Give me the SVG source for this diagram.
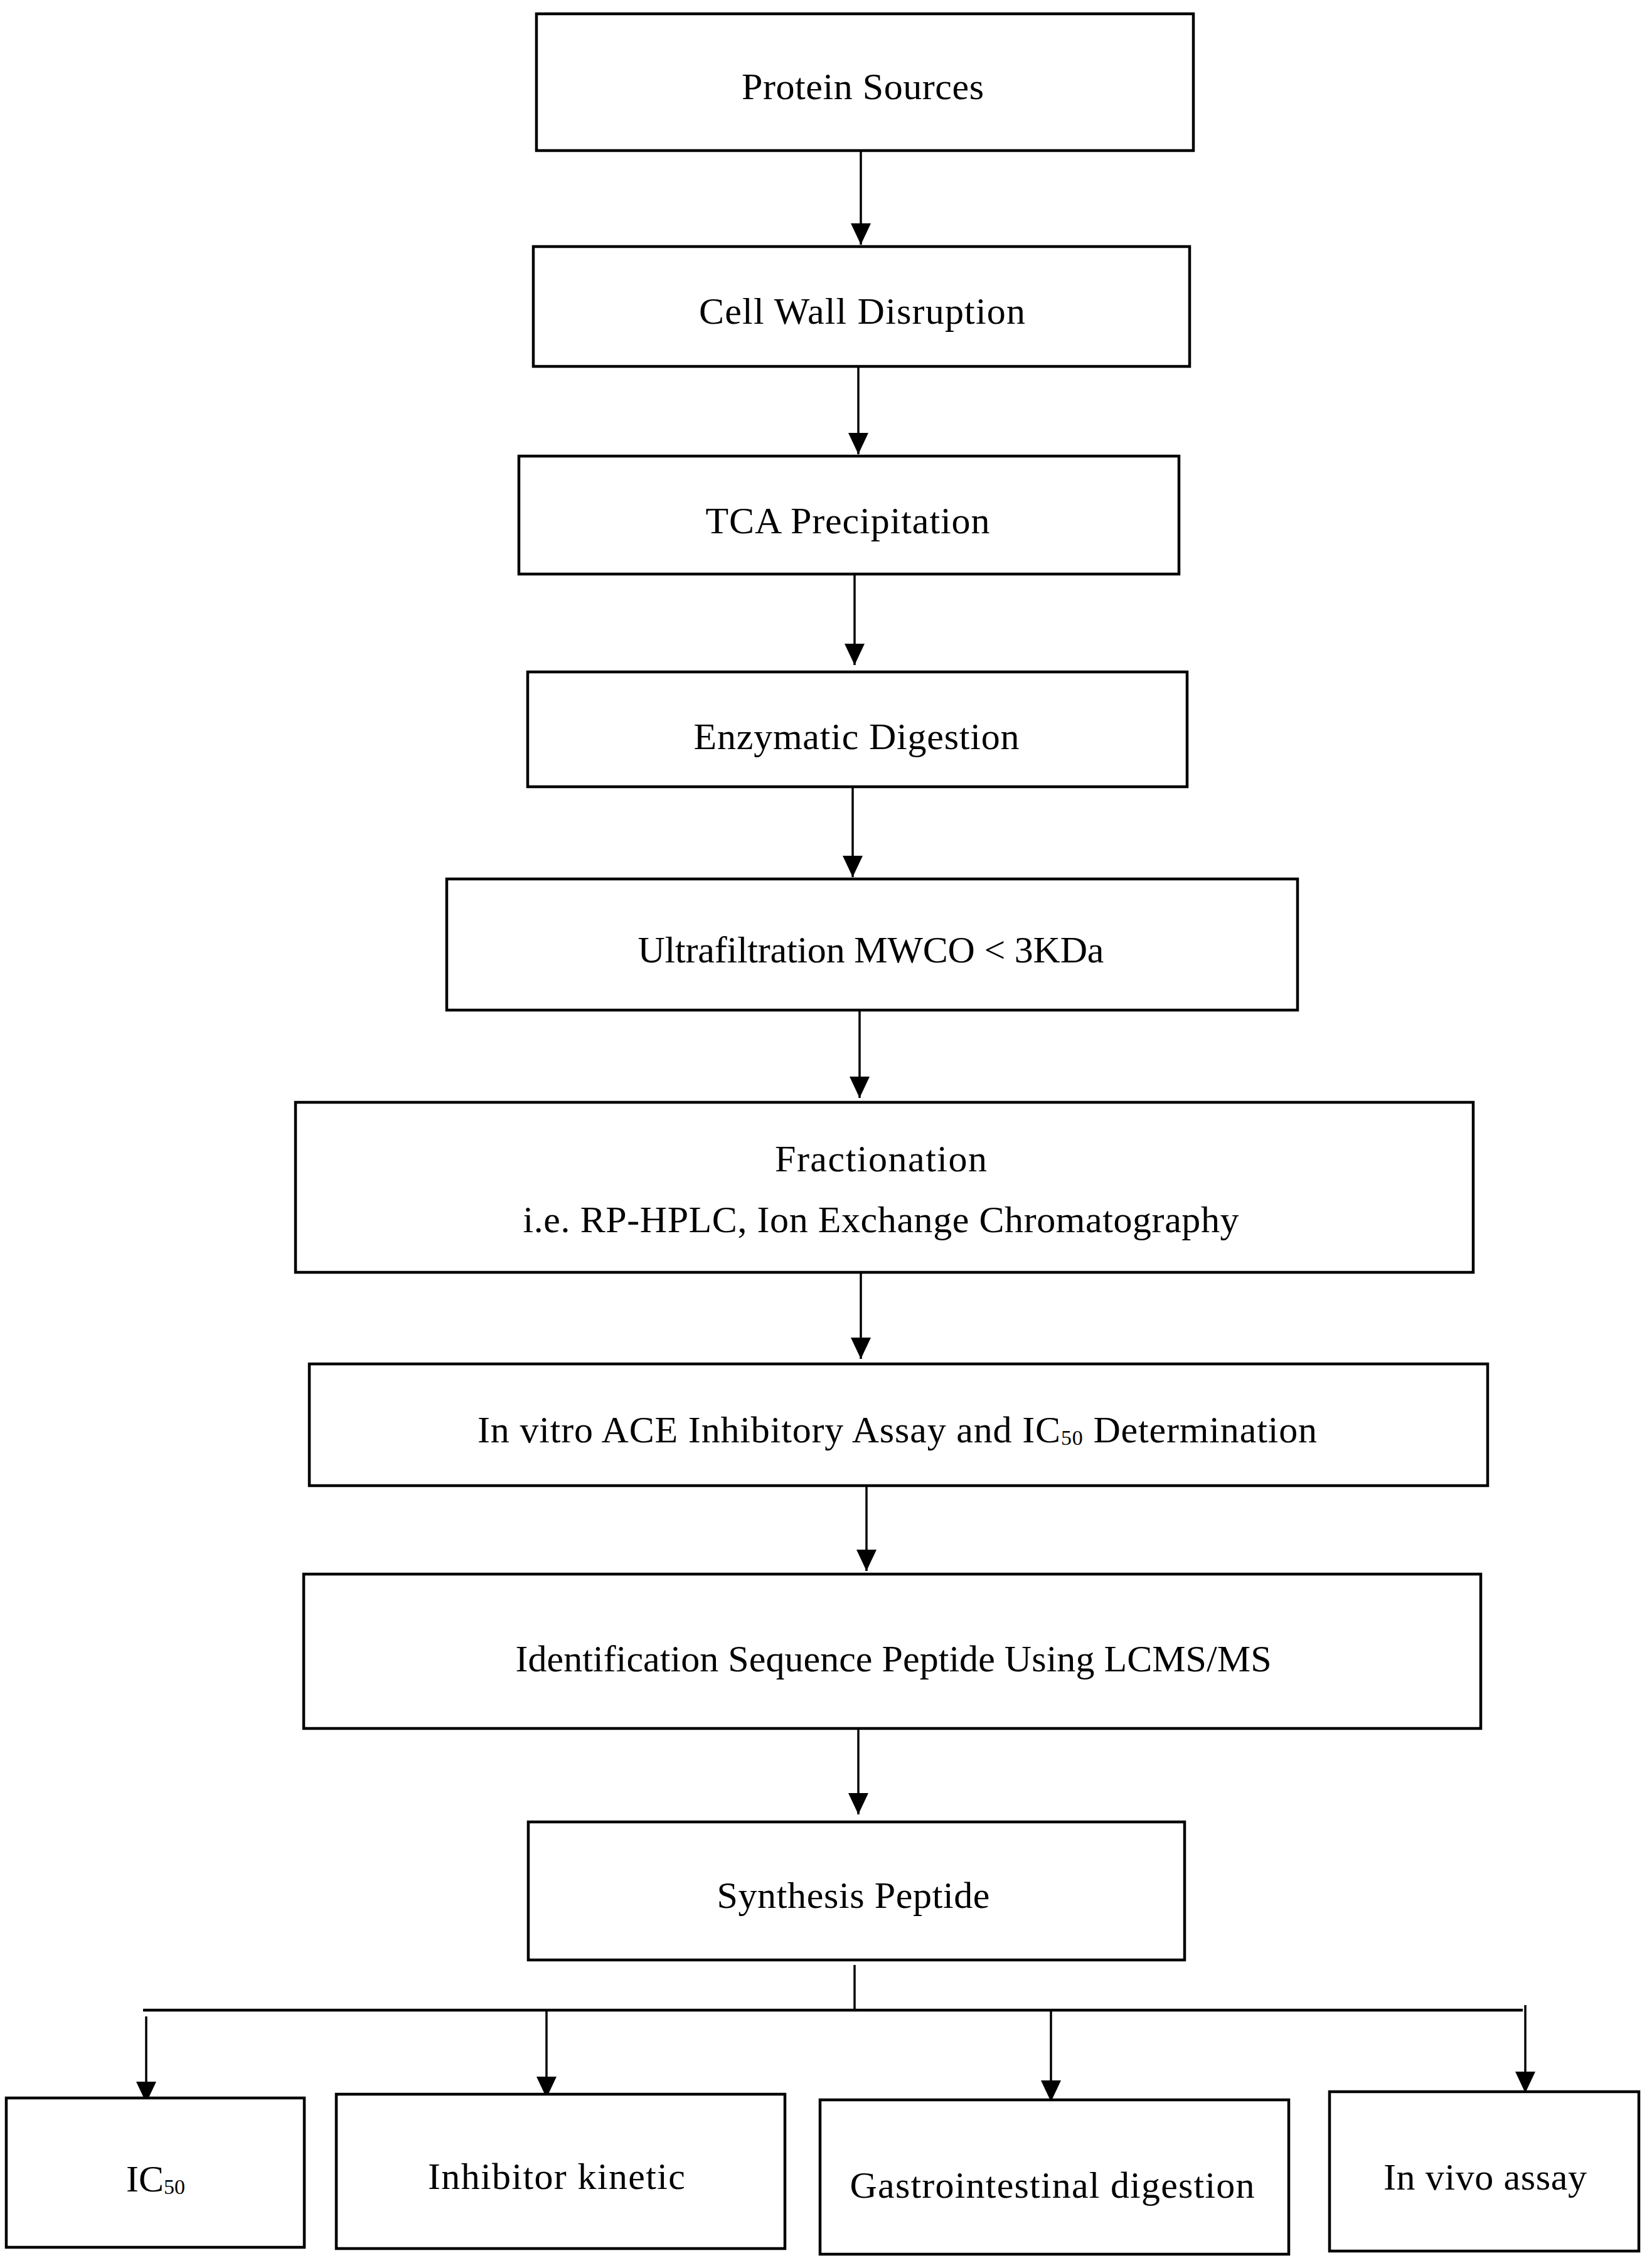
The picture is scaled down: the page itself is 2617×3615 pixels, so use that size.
<svg xmlns="http://www.w3.org/2000/svg" width="2617" height="3615" viewBox="0 0 2617 3615">
<style>
.box{fill:#fff;stroke:#000;stroke-width:4.5}
.t{font-family:"Liberation Serif","DejaVu Serif",serif;font-size:60px;fill:#000;text-anchor:middle}
.c{stroke:#000;stroke-width:3.5;fill:none}
.h{stroke:#000;stroke-width:4.5;fill:none}
</style>
<defs>
<marker id="a" markerUnits="userSpaceOnUse" markerWidth="34" markerHeight="32" viewBox="0 0 34 32" refX="34" refY="16" orient="auto">
<path d="M0,0 L34,16 L0,32 Z" fill="#000"/>
</marker>
</defs>
<rect width="2617" height="3615" fill="#fff"/>
<g id="connectors">
<line class="c" x1="1372" y1="242" x2="1372" y2="390" marker-end="url(#a)"/>
<line class="c" x1="1368" y1="586" x2="1368" y2="724" marker-end="url(#a)"/>
<line class="c" x1="1362" y1="917" x2="1362" y2="1060" marker-end="url(#a)"/>
<line class="c" x1="1359" y1="1256" x2="1359" y2="1398" marker-end="url(#a)"/>
<line class="c" x1="1370" y1="1612" x2="1370" y2="1750" marker-end="url(#a)"/>
<line class="c" x1="1372" y1="2030" x2="1372" y2="2166" marker-end="url(#a)"/>
<line class="c" x1="1381" y1="2370" x2="1381" y2="2504" marker-end="url(#a)"/>
<line class="c" x1="1368" y1="2757" x2="1368" y2="2892" marker-end="url(#a)"/>
<line class="c" x1="1362" y1="3132" x2="1362" y2="3204"/>
<line class="h" x1="228" y1="3204" x2="2427" y2="3204"/>
<line class="c" x1="233" y1="3214" x2="233" y2="3352" marker-end="url(#a)"/>
<line class="c" x1="871" y1="3206" x2="871" y2="3344" marker-end="url(#a)"/>
<line class="c" x1="1675" y1="3206" x2="1675" y2="3350" marker-end="url(#a)"/>
<line class="c" x1="2431" y1="3196" x2="2431" y2="3336" marker-end="url(#a)"/>
</g>
<g id="n1"><rect class="box" x="855" y="22" width="1047" height="218"/><text class="t" x="1375" y="158" textLength="386">Protein Sources</text></g>
<g id="n2"><rect class="box" x="850" y="393" width="1046" height="191"/><text class="t" x="1374" y="516" textLength="520">Cell Wall Disruption</text></g>
<g id="n3"><rect class="box" x="827" y="727" width="1052" height="188"/><text class="t" x="1351" y="850" textLength="453">TCA Precipitation</text></g>
<g id="n4"><rect class="box" x="841" y="1071" width="1051" height="183"/><text class="t" x="1365" y="1194" textLength="519">Enzymatic Digestion</text></g>
<g id="n5"><rect class="box" x="712" y="1401" width="1356" height="209"/><text class="t" x="1388" y="1534" textLength="743">Ultrafiltration MWCO &lt; 3KDa</text></g>
<g id="n6"><rect class="box" x="471" y="1757" width="1877" height="271"/><text class="t" x="1404" y="1867" textLength="338">Fractionation</text><text class="t" x="1404" y="1964" textLength="1141">i.e. RP-HPLC, Ion Exchange Chromatography</text></g>
<g id="n7"><rect class="box" x="493" y="2174" width="1878" height="194"/><text class="t" x="1430" y="2299" textLength="1338">In vitro ACE Inhibitory Assay and IC<tspan font-size="34" dy="4">50</tspan><tspan dy="-4"> Determination</tspan></text></g>
<g id="n8"><rect class="box" x="484" y="2509" width="1876" height="246"/><text class="t" x="1424" y="2664" textLength="1205">Identification Sequence Peptide Using LCMS/MS</text></g>
<g id="n9"><rect class="box" x="842" y="2904" width="1046" height="220"/><text class="t" x="1360" y="3041" textLength="435">Synthesis Peptide</text></g>
<g id="n10"><rect class="box" x="10" y="3344" width="475" height="238"/><text class="t" x="248" y="3493">IC<tspan font-size="34" dy="4">50</tspan></text></g>
<g id="n11"><rect class="box" x="536" y="3338" width="715" height="246"/><text class="t" x="887" y="3489" textLength="410">Inhibitor kinetic</text></g>
<g id="n12"><rect class="box" x="1307" y="3347" width="747" height="246"/><text class="t" x="1677" y="3503" textLength="645">Gastrointestinal digestion</text></g>
<g id="n13"><rect class="box" x="2119" y="3334" width="493" height="254"/><text class="t" x="2367" y="3490" textLength="324">In vivo assay</text></g>
</svg>
